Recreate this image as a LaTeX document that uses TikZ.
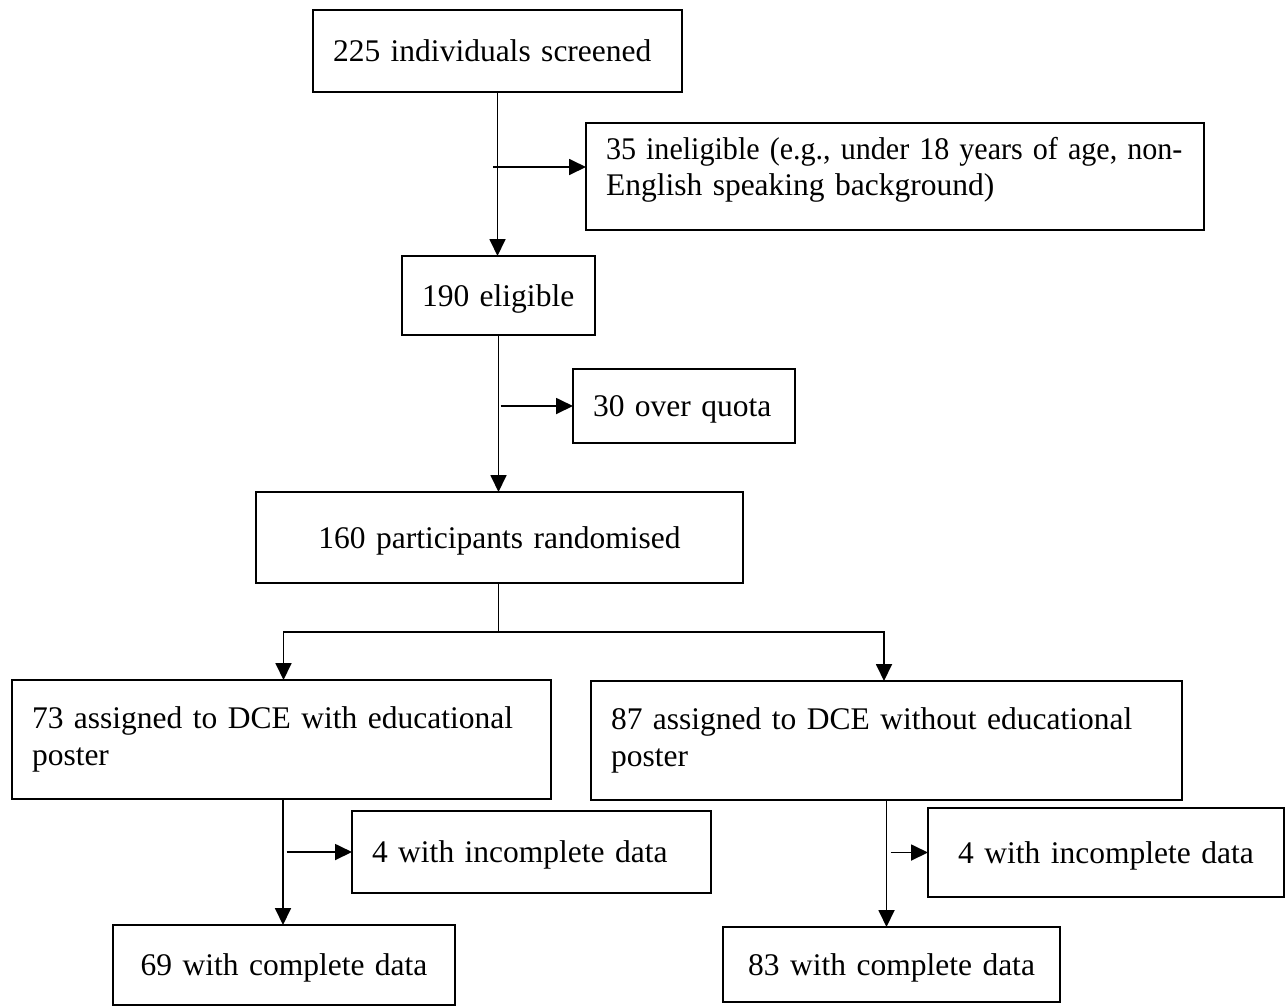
\documentclass[tikz,border=0pt]{standalone}
\usepackage{fontspec}
\usepackage{graphicx}
\setmainfont[WordSpace=0.75]{Liberation Serif}
\usetikzlibrary{arrows.meta}
\newcommand{\boxfont}{\fontsize{31.5}{36.5}\selectfont}
\begin{document}
\begin{tikzpicture}[x=1pt,y=-1pt,
  box/.style={draw, line width=1.8pt, inner xsep=20pt, inner ysep=0pt, outer sep=0pt,
    anchor=north west, font=\boxfont},
  boxl/.style={box, align=left},
  boxc/.style={box, align=center},
  one/.style={text height=26pt, text depth=5pt},
  conn/.style={line width=1.8pt},
  arr/.style={conn, -{Triangle[length=17pt,width=16pt]}}]
\useasboundingbox (0,0) rectangle (1288,1005);
\fill[white] (0,0) rectangle (1288,1005);

\node[boxl, one, text width=329pt, minimum height=82pt] (A) at (313,10) {\mbox{225 individuals screened}};
\node[boxl, text width=578pt, minimum height=107pt] (B) at (586,123)
  {\mbox{\scalebox{0.955}[1]{35 ineligible (e.g., under 18 years of age, non-}}\\\mbox{English speaking background)}\rule[-20pt]{0pt}{1pt}};
\node[boxl, one, text width=153pt, minimum height=79pt] (C) at (402,256) {\mbox{190 eligible}};
\node[boxl, one, text width=182pt, minimum height=74pt] (D) at (573,369) {\mbox{30 over quota}};
\node[boxc, one, text width=447pt, minimum height=91pt] (E) at (256,492) {\mbox{160 participants randomised}};
\node[boxl, text width=499pt, minimum height=119pt] (F) at (12,680)
  {\makebox[499pt][s]{73 assigned to DCE with educational}\\poster};
\node[boxl, text width=551pt, minimum height=119pt] (G) at (591,681)
  {\makebox[551pt][s]{87 assigned to DCE without educational}\\poster};
\node[boxl, one, text width=319pt, minimum height=82pt] (H) at (352,811) {\mbox{4 with incomplete data}};
\node[boxc, one, text width=316pt, minimum height=89pt] (I) at (928,808) {\mbox{4 with incomplete data}};
\node[boxc, one, text width=302pt, minimum height=80pt] (J) at (113,925) {\mbox{69 with complete data}};
\node[boxc, one, text width=297pt, minimum height=75pt] (K) at (723,927) {\mbox{83 with complete data}};

% screened -> eligible
\draw[arr] (A.south) -- (A.south |- C.north);
\coordinate (ab) at (493,167);
\draw[arr] (ab) -- (ab -| B.west);
% eligible -> randomised
\draw[arr] (C.south) -- (C.south |- E.north);
\draw[arr] ([xshift=2pt]C.south |- D.west) -- (D.west);
% randomised -> two arms
\path (E.south) ++(-1,49) coordinate (split);
\draw[conn] ([xshift=-1pt]E.south) -- (split);
\draw[arr] (split) -| ([xshift=2pt]F.north);
\draw[arr] (split) -| ([xshift=-2.5pt]G.north);
% arm 1
\draw[arr] ([xshift=1.5pt]F.south) -- ([xshift=1.5pt]F.south |- J.north);
\draw[arr] ([xshift=5pt]F.south |- H.west) -- (H.west);
% arm 2
\draw[arr] (G.south) -- (G.south |- K.north);
\draw[arr] ([xshift=4pt]G.south |- I.west) -- (I.west);
\end{tikzpicture}
\end{document}
